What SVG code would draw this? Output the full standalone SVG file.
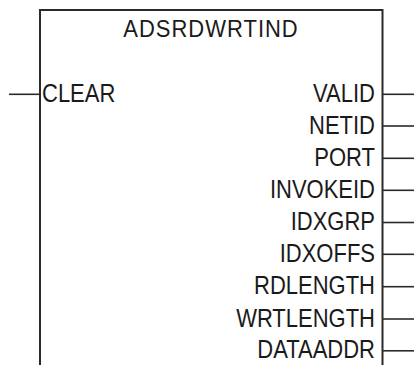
<svg xmlns="http://www.w3.org/2000/svg" width="414" height="365" viewBox="0 0 414 365">
<style>
.box{fill:none;stroke:#2a2a2a;stroke-width:2}
.pin{stroke:#2a2a2a;stroke-width:1.6}
text{font-family:"Liberation Sans",Arial,sans-serif;font-size:22px;fill:#1a1a1a}
.r{text-anchor:end}
.c{text-anchor:middle;letter-spacing:1px}
</style>
<rect width="414" height="365" fill="#fff"/>
<g id="block">
<path class="box" d="M40,370 V10 H382.5 V370"/>
<text class="c" transform="translate(211,36.5) scale(1,1.12)">ADSRDWRTIND</text>
</g>
<g id="connectors">
<line class="pin" x1="9" y1="94.3" x2="40" y2="94.3"/>
<line class="pin" x1="383" y1="94.3" x2="414" y2="94.3"/>
<line class="pin" x1="383" y1="126" x2="414" y2="126"/>
<line class="pin" x1="383" y1="158.3" x2="414" y2="158.3"/>
<line class="pin" x1="383" y1="190.3" x2="414" y2="190.3"/>
<line class="pin" x1="383" y1="222.5" x2="414" y2="222.5"/>
<line class="pin" x1="383" y1="254.3" x2="414" y2="254.3"/>
<line class="pin" x1="383" y1="286.7" x2="414" y2="286.7"/>
<line class="pin" x1="383" y1="319" x2="414" y2="319"/>
<line class="pin" x1="383" y1="350.8" x2="414" y2="350.8"/>
</g>
<g id="in-CLEAR"><text transform="translate(42,101.7) scale(1,1.14)">CLEAR</text></g>
<g id="out-VALID"><text class="r" transform="translate(375,101.7) scale(1,1.14)">VALID</text></g>
<g id="out-NETID"><text class="r" transform="translate(375,133.5) scale(1,1.14)">NETID</text></g>
<g id="out-PORT"><text class="r" transform="translate(375,165.7) scale(1,1.14)">PORT</text></g>
<g id="out-INVOKEID"><text class="r" transform="translate(375,197.8) scale(1,1.14)">INVOKEID</text></g>
<g id="out-IDXGRP"><text class="r" transform="translate(375,230) scale(1,1.14)">IDXGRP</text></g>
<g id="out-IDXOFFS"><text class="r" transform="translate(375,261.8) scale(1,1.14)">IDXOFFS</text></g>
<g id="out-RDLENGTH"><text class="r" transform="translate(375,294.2) scale(1,1.14)">RDLENGTH</text></g>
<g id="out-WRTLENGTH"><text class="r" transform="translate(375,326.5) scale(1,1.14)">WRTLENGTH</text></g>
<g id="out-DATAADDR"><text class="r" transform="translate(375,358.3) scale(1,1.14)">DATAADDR</text></g>
</svg>
